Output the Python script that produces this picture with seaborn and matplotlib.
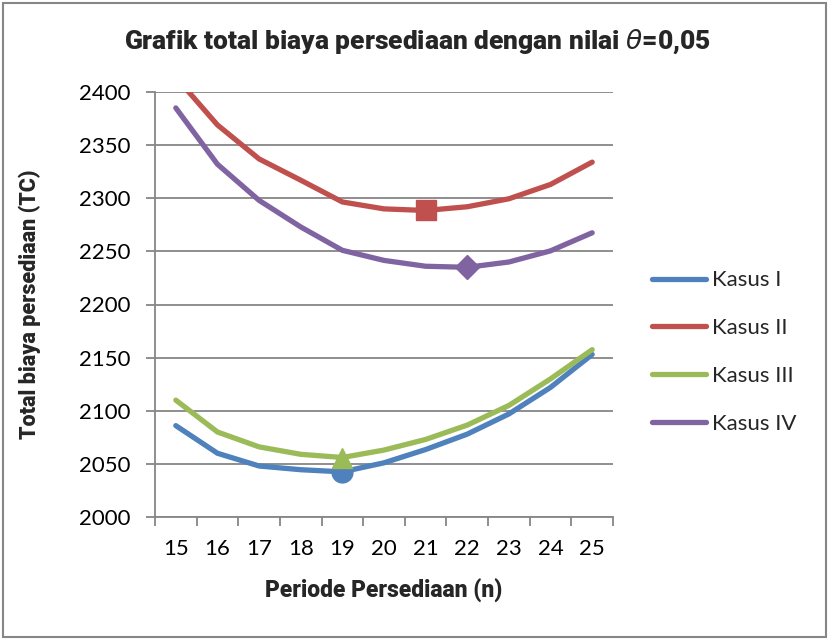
import matplotlib
matplotlib.use("Agg")
import matplotlib.pyplot as plt
import seaborn as sns
import pandas as pd
import numpy as np
from matplotlib.patches import Rectangle

periode = [15, 16, 17, 18, 19, 20, 21, 22, 23, 24, 25]
kasus_1 = [2086, 2060, 2048, 2044.5, 2042.5, 2051, 2063.5, 2078, 2097, 2122, 2153]
kasus_2 = [2414, 2369, 2337, 2317, 2296.5, 2290, 2288.5, 2292, 2299.5, 2313, 2334]
kasus_3 = [2110, 2080, 2066, 2059, 2056, 2063, 2073, 2086.5, 2105, 2130, 2157.5]
kasus_4 = [2385, 2332, 2298, 2273, 2251, 2241.5, 2236, 2235, 2240, 2250.5, 2267.5]
series_names = ["Kasus I", "Kasus II", "Kasus III", "Kasus IV"]
colors = ["#4F81BD", "#C0504D", "#9BBB59", "#8064A2"]
markers = ["o", "s", "^", "D"]
marker_sizes = [15, 14, 15, 12]

rows = []
for name, vals in zip(series_names, [kasus_1, kasus_2, kasus_3, kasus_4]):
    for p, v in zip(periode, vals):
        rows.append({"Periode": p, "TC": v, "Kasus": name})
df = pd.DataFrame(rows)

sns.set_theme(style="white")
plt.rcParams["font.family"] = ["Lato", "DejaVu Sans"]
BOLD = ["Roboto", "DejaVu Sans"]

fig = plt.figure(figsize=(8.29, 6.40), dpi=100)
ax = fig.add_axes([155/829, 1-517/640, (613-155)/829, (517-92)/640])

sns.lineplot(data=df, x="Periode", y="TC", hue="Kasus", palette=colors,
             hue_order=series_names, linewidth=3.8, ax=ax, legend=True,
             solid_capstyle="round", clip_on=True)

# minimum markers
for name, vals, c, m, ms in zip(series_names, [kasus_1, kasus_2, kasus_3, kasus_4], colors, markers, marker_sizes):
    i = int(np.argmin(vals))
    ax.plot([periode[i]], [vals[i]], marker=m, color=c, markersize=ms, linestyle="none", zorder=5)

ax.set_ylim(2000, 2400)
ax.set_xlim(14.5, 25.5)
ax.set_yticks(np.arange(2000, 2401, 50))
ax.set_xticks(periode)
ax.set_xticklabels([str(p) for p in periode])
ax.set_xticks(np.arange(14.5, 25.6, 1), minor=True)
ax.tick_params(axis="x", which="major", length=0, pad=16, labelsize=16, colors="black")
ax.tick_params(axis="x", which="minor", length=6.5, width=1.3, color="#868686", direction="out", bottom=True)
ax.tick_params(axis="y", which="major", length=6.5, width=1.3, color="#868686", direction="out", left=True, pad=11, labelsize=16, labelcolor="black")
ax.grid(axis="y", color="#868686", linewidth=1.3)
ax.set_axisbelow(True)
for s in ["top", "right"]:
    ax.spines[s].set_visible(False)
for s in ["left", "bottom"]:
    ax.spines[s].set_color("#868686")
    ax.spines[s].set_linewidth(1.3)

ax.set_xlabel("Periode Persediaan (n)", fontsize=16.5, fontweight="heavy", family=BOLD)
ax.set_ylabel("Total biaya persediaan (TC)", fontsize=15.5, fontweight="heavy", family=BOLD)
ax.xaxis.set_label_coords(0.5, -(591-517)/(517-92))
ax.yaxis.set_label_coords(-(155-30)/(613-155), 0.5)
ax.xaxis.label.set_va("center")
ax.yaxis.label.set_va("center")

fig.text(0.504, 1-42/640, r"Grafik total biaya persediaan dengan nilai $\theta$=0,05",
         ha="center", va="center", fontsize=19, fontweight="heavy", family=BOLD)

handles, labels = ax.get_legend_handles_labels()
leg = ax.legend(handles[:4], labels[:4], loc="center left", bbox_to_anchor=(0.786, 0.45),
                bbox_transform=fig.transFigure, frameon=False, fontsize=16,
                handlelength=2.45, handletextpad=0.25, labelspacing=1.25, borderpad=0, borderaxespad=0)

fig.patches.append(Rectangle((3/829, 3/640), 1-6/829, 1-6/640, transform=fig.transFigure,
                             fill=False, edgecolor="#868686", linewidth=1.5))

fig.savefig("out.png", dpi=100)
